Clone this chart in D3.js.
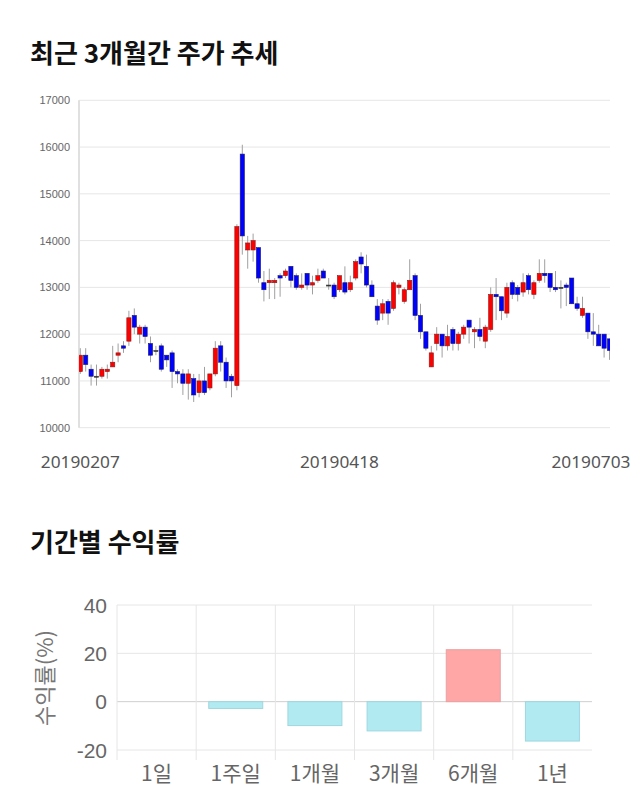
<!DOCTYPE html>
<html><head><meta charset="utf-8">
<script src="https://cdn.jsdelivr.net/npm/d3@7"></script>
<style>body{margin:0;background:#fff}svg{display:block}</style>
</head><body>
<svg id="c" width="640" height="810"></svg>
<script>
const dates = ["20190207","20190211","20190212","20190213","20190214","20190215","20190218","20190219","20190220","20190221","20190222","20190225","20190226","20190227","20190228",
"20190304","20190305","20190306","20190307","20190308","20190311","20190312","20190313","20190314","20190315","20190318","20190319","20190320","20190321","20190322","20190325","20190326","20190327","20190328","20190329",
"20190401","20190402","20190403","20190404","20190405","20190408","20190409","20190410","20190411","20190412","20190415","20190416","20190417","20190418","20190419","20190422","20190423","20190424","20190425","20190426","20190429","20190430",
"20190502","20190503","20190507","20190508","20190509","20190510","20190513","20190514","20190515","20190516","20190517","20190520","20190521","20190522","20190523","20190524","20190527","20190528","20190529","20190530","20190531",
"20190603","20190604","20190605","20190607","20190610","20190611","20190612","20190613","20190614","20190617","20190618","20190619","20190620","20190621","20190624","20190625","20190626","20190627",
"20190701","20190702","20190703"];
const opens = [11200,11550,11250,11100,11100,11200,11300,11550,11750,11850,12400,12000,12150,11800,11650,11750,11550,11600,11200,11150,
10950,11050,10750,11000,10850,11150,11750,11400,11100,10900,15850,13800,13800,13850,13100,13100,13100,13250,13250,13450,
13250,13000,13300,13050,13150,13350,13050,13050,12950,13100,12950,13200,13650,13450,13050,12600,12450,12700,12550,13000,
12700,12950,13250,12400,12050,11300,11800,12000,11750,12100,11800,12000,12300,12050,12100,11850,12100,12850,12800,12450,
13100,13000,12900,13250,12850,13150,13300,13300,13000,13000,13050,13200,12650,12400,12450,12050,12000,12000,11900];
const closes = [11550,11350,11100,11100,11250,11250,11400,11600,11700,12350,12150,12150,11950,11550,11650,11250,11450,11200,11150,10950,
11150,10700,11000,10750,11150,11700,11400,11000,11000,14300,14100,13950,14000,13200,12950,13150,13150,13200,13350,13150,
13000,13050,13050,13100,13250,13200,13050,12800,13250,12900,13100,13550,13500,13050,12800,12300,12650,12450,13100,13050,
12950,13150,12400,12050,11700,11600,12000,11750,11950,11800,12000,12150,12150,12100,11950,12150,12850,12800,12500,13000,
12850,12850,13100,12950,13100,13300,13250,13000,12950,13000,13000,12650,12550,12550,12050,12000,11750,11700,11650];
const highs = [11700,11700,11350,11350,11300,11350,11750,11800,11850,12500,12550,12200,12200,11950,11750,11800,11550,11650,11250,11250,
11250,11150,11150,11300,11150,11850,11850,11500,11150,14350,16050,14100,14150,13850,13350,13400,13200,13300,13400,13450,
13300,13300,13300,13250,13400,13400,13200,13100,13250,13450,13250,13600,13750,13700,13150,12750,12750,12750,13150,13100,
13000,13600,13300,12650,12050,11750,12150,12000,12200,12150,12050,12200,12300,12150,12350,12200,13000,13200,12800,13100,
13150,13050,13300,13300,13150,13600,13600,13300,13350,13150,13100,13200,12800,12800,12450,12450,12200,12000,11900];
const lows = [11150,11200,10900,10900,11050,11050,11300,11400,11600,11750,12000,11800,11800,11400,11550,11200,11300,10850,10950,10700,
10600,10550,10650,10700,10800,11100,11200,10850,10650,10800,13700,13400,13550,13100,12700,12750,12750,12800,13200,13000,
12950,12950,12950,12850,13100,13200,12950,12750,12900,12850,12900,13150,13300,13000,12800,12200,12300,12200,12500,12850,
12650,12950,12300,11900,11650,11300,11650,11500,11650,11650,11650,11900,11800,11700,11850,11700,12050,12300,12300,12350,
12750,12700,12800,12850,12750,13100,13100,12900,12900,12550,12600,12650,12500,12350,11900,11750,11750,11500,11450];
const priceTicks = [10000,11000,12000,13000,14000,15000,16000,17000];
const dateTickLabels = ["20190207","20190418","20190703"];

const periods = ["1일","1주일","1개월","3개월","6개월","1년"];
const returns = [0,-2.8,-9.9,-12.1,21.5,-16.3];
const returnTicks = [-20,0,20,40];

const svg = d3.select("#c");
const KR = "'Noto Sans CJK KR','Noto Sans',sans-serif";

svg.append("text").attr("x",30).attr("y",63).attr("font-family",KR).attr("font-weight","bold")
  .attr("font-size",26).attr("fill","#111").text("최근 3개월간 주가 추세");
svg.append("text").attr("x",30).attr("y",552).attr("font-family",KR).attr("font-weight","bold")
  .attr("font-size",26).attr("fill","#111").text("기간별 수익률");

// ---- candlestick chart ----
const L=79, R=610, T=100.3, B=427.7;
const x = d3.scalePoint().domain(dates).range([80.3, 609.5]);
const y = d3.scaleLinear().domain([10000,17000]).range([B,T]);

const g = svg.append("g");
g.selectAll("line.grid").data(priceTicks).join("line")
  .attr("x1",L).attr("x2",R).attr("y1",d=>y(d)).attr("y2",d=>y(d))
  .attr("stroke","#e6e6e6").attr("stroke-width",1);
g.append("line").attr("x1",L).attr("x2",L).attr("y1",T).attr("y2",B).attr("stroke","#e0e0e0").attr("stroke-width",2);
g.selectAll("text.yt").data(priceTicks).join("text")
  .attr("x",70).attr("y",d=>y(d)+4).attr("text-anchor","end")
  .attr("font-family","'Liberation Sans',Arial,sans-serif").attr("font-size",11).attr("fill","#666")
  .text(d=>d);

svg.append("clipPath").attr("id","clip").append("rect").attr("x",L).attr("y",T-10).attr("width",R-L).attr("height",B-T+20);
const cg = svg.append("g").attr("clip-path","url(#clip)");
const idx = d3.range(dates.length);
cg.selectAll("line.wick").data(idx).join("line")
  .attr("x1",i=>x(dates[i])).attr("x2",i=>x(dates[i]))
  .attr("y1",i=>y(highs[i])).attr("y2",i=>y(lows[i]))
  .attr("stroke","#a0a0a0").attr("stroke-width",1);
const bw = 4.2;
cg.selectAll("rect.body").data(idx).join("rect")
  .attr("x",i=>x(dates[i])-bw/2).attr("width",bw)
  .attr("y",i=>y(Math.max(opens[i],closes[i])))
  .attr("height",i=>Math.max(1,Math.abs(y(opens[i])-y(closes[i]))))
  .attr("fill",i=>closes[i]>opens[i]?"#ff0000":(closes[i]<opens[i]?"#0000ff":"#333"))
  .attr("stroke",i=>closes[i]>opens[i]?"#8a1a1a":(closes[i]<opens[i]?"#1a1a6a":"#333"))
  .attr("stroke-width",0.6);

svg.selectAll("text.xt").data(dateTickLabels).join("text")
  .attr("x",d=>Math.min(x(d), 631-40)).attr("y",468).attr("text-anchor","middle")
  .attr("font-family","'Noto Sans',sans-serif").attr("font-size",16.5).attr("fill","#555")
  .attr("textLength",79).attr("lengthAdjust","spacingAndGlyphs")
  .text(d=>d);

// ---- returns bar chart ----
const bx = d3.scaleBand().domain(periods).range([117,592]).paddingInner(0).paddingOuter(0);
const by = d3.scaleLinear().domain([-20,40]).range([750,605]);
const b = svg.append("g");
b.selectAll("line.hg").data(returnTicks).join("line")
  .attr("x1",117).attr("x2",592).attr("y1",d=>by(d)).attr("y2",d=>by(d))
  .attr("stroke",d=>d===0?"#cfcfcf":"#e6e6e6").attr("stroke-width",1);
b.selectAll("line.vg").data(periods).join("line")
  .attr("x1",d=>bx(d)).attr("x2",d=>bx(d)).attr("y1",605).attr("y2",760)
  .attr("stroke","#e6e6e6").attr("stroke-width",1);
b.selectAll("text.yt").data(returnTicks).join("text")
  .attr("x",107).attr("y",d=>by(d)+7.5).attr("text-anchor","end")
  .attr("font-family","'Liberation Sans',Arial,sans-serif").attr("font-size",21).attr("fill","#666")
  .text(d=>d);
const barW = 54;
b.selectAll("rect.bar").data(periods).join("rect")
  .attr("x",(d)=>bx(d)+bx.bandwidth()/2-barW/2).attr("width",barW)
  .attr("y",(d,i)=>by(Math.max(0,returns[i])))
  .attr("height",(d,i)=>Math.abs(by(returns[i])-by(0)))
  .attr("fill",(d,i)=>returns[i]>=0?"#ffa6a6":"#b2eaf2")
  .attr("stroke",(d,i)=>returns[i]>=0?"#eaa0a0":"#9fd6df").attr("stroke-width",1);
b.selectAll("text.xl").data(periods).join("text")
  .attr("x",d=>bx(d)+bx.bandwidth()/2).attr("y",781).attr("text-anchor","middle")
  .attr("font-family",KR).attr("font-size",21).attr("fill","#666")
  .text(d=>d);
svg.append("text").attr("transform","translate(53,678) rotate(-90)").attr("text-anchor","middle")
  .attr("font-family",KR).attr("font-size",22).attr("fill","#777").text("수익률(%)");
</script>
</body></html>
